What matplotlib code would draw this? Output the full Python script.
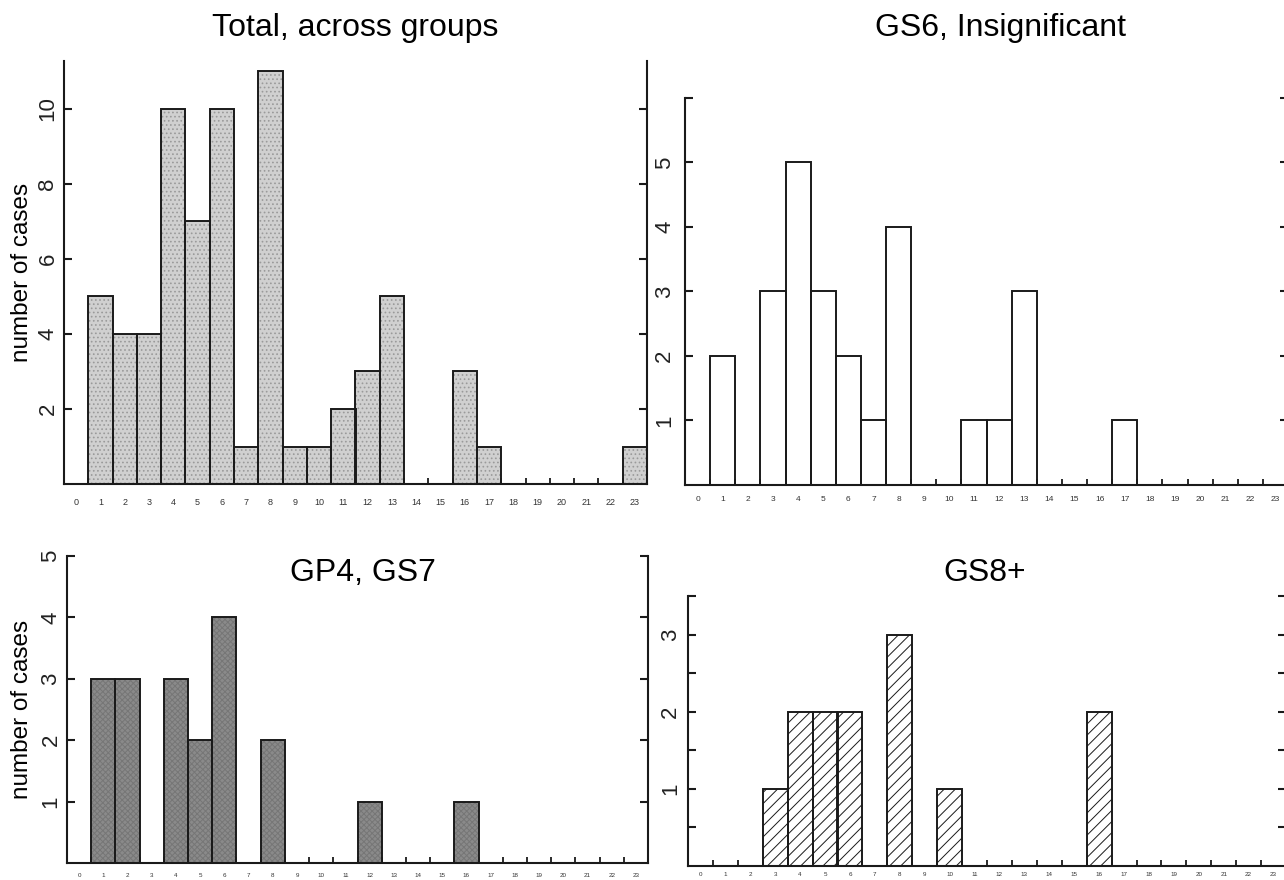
import matplotlib.pyplot as plt

plt.rcParams['font.family'] = ['Liberation Sans', 'DejaVu Sans']
plt.rcParams['hatch.linewidth'] = 0.7

# histogram bins (score) and case counts per group
bins = list(range(24))
total = [0, 5, 4, 4, 10, 7, 10, 1, 11, 1, 1, 2, 3, 5, 0, 0, 3, 1, 0, 0, 0, 0, 0, 1]
gs6 = [0, 2, 0, 3, 5, 3, 2, 1, 4, 0, 0, 1, 1, 3, 0, 0, 0, 1, 0, 0, 0, 0, 0, 0]
gp4_gs7 = [0, 3, 3, 0, 3, 2, 4, 0, 2, 0, 0, 0, 1, 0, 0, 0, 1, 0, 0, 0, 0, 0, 0, 0]
gs8 = [0, 0, 0, 1, 2, 2, 2, 0, 3, 0, 1, 0, 0, 0, 0, 0, 2, 0, 0, 0, 0, 0, 0, 0]

W, H = 1284, 880
fig = plt.figure(figsize=(W / 100, H / 100), dpi=100)


def px_rect(x0, y0, x1, y1):
    # pixel box (y from top) -> figure fraction rect
    return [x0 / W, 1 - y1 / H, (x1 - x0) / W, (y1 - y0) / H]


def panel(rect, counts, face, hatch, hatch_color, ymax, yticks, ylabels,
          xfs, xpad):
    ax = fig.add_axes(rect)
    xs = [b for b, c in zip(bins, counts) if c > 0]
    hs = [c for c in counts if c > 0]
    ax.bar(xs, hs, width=1.0, color=face, hatch=hatch, edgecolor=hatch_color,
           linewidth=0)
    ax.bar(xs, hs, width=1.0, facecolor='none', edgecolor='#1a1a1a',
           linewidth=1.4)
    ax.set_xlim(-0.5, 23.5)
    ax.set_ylim(0, ymax)
    ax.spines['top'].set_visible(False)
    for s in ['left', 'bottom', 'right']:
        ax.spines[s].set_linewidth(1.5)
        ax.spines[s].set_color('#1a1a1a')

    ax.set_xticks(bins)
    ax.set_xticklabels([str(b) for b in bins], fontsize=xfs, color='#333333')
    ax.set_xticks([b + 0.5 for b in bins[:-1]], minor=True)
    ax.tick_params(axis='x', which='major', length=0, pad=xpad)
    ax.tick_params(axis='x', which='minor', direction='in', length=4.5,
                   width=1.3, color='#1a1a1a')

    ax.set_yticks(yticks)
    ax.set_yticklabels(ylabels, fontsize=16, rotation=90, va='center',
                       color='#222222')
    ax.tick_params(axis='y', direction='in', length=6, width=1.5, right=True,
                   pad=4, color='#1a1a1a')
    return ax


ax1 = panel(px_rect(64, 61, 647, 484), total, '#d0d0d0', '....', '#9a9a9a',
            11.28, [2, 4, 6, 8, 10], ['2', '4', '6', '8', '10'], 6.5, 10)
ax1.set_ylabel('number of cases', fontsize=17.5)
ax1.yaxis.set_label_coords(-0.053, 0.5)

ax2 = panel(px_rect(685, 98, 1288, 485), gs6, 'white', None, 'white',
            6, [1, 2, 3, 4, 5, 6], ['1', '2', '3', '4', '5', ''], 6, 8)
ax2.tick_params(axis='y', pad=7)

ax3 = panel(px_rect(67, 556, 648, 863), gp4_gs7, '#8a8a8a', 'xxxxxx', '#767676',
            5, [1, 2, 3, 4, 5], ['1', '2', '3', '4', '5'], 4.5, 7)
ax3.set_ylabel('number of cases', fontsize=17.5)
ax3.yaxis.set_label_coords(-0.0585, 0.5)

ax4 = panel(px_rect(688, 596, 1286, 866), gs8, 'white', '///', '#1a1a1a',
            3.5, [0.5, 1, 1.5, 2, 2.5, 3, 3.5],
            ['', '1', '', '2', '', '3', ''], 4.5, 4.5)
ax4.tick_params(axis='y', pad=5)

titles = ['Total, across groups', 'GS6, Insignificant', 'GP4, GS7', 'GS8+']
title_pos = [(355, 36), (1001, 36), (363, 581), (985, 581)]
for t, (x, y) in zip(titles, title_pos):
    fig.text(x / W, 1 - y / H, t, fontsize=23, ha='center', va='baseline')

fig.savefig('out.png', dpi=100)
